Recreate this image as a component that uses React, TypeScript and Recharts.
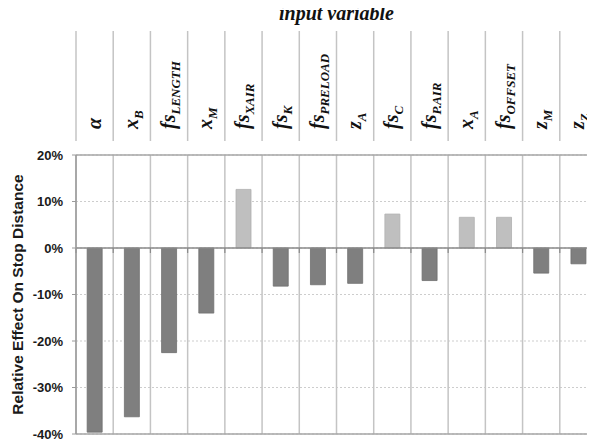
import React from 'react';
import { BarChart, Bar, XAxis, YAxis, CartesianGrid, ReferenceLine, Cell, Label } from 'recharts';

const variables = ['α', 'x', 'fs', 'x', 'fs', 'fs', 'fs', 'z', 'fs', 'fs', 'x', 'fs', 'z', 'z'];
const subscripts = ['', 'B', 'LENGTH', 'M', 'XAIR', 'K', 'PRELOAD', 'A', 'C', 'P.AIR', 'A', 'OFFSET', 'M', 'Z'];
const effects = [-0.396, -0.363, -0.225, -0.14, 0.126, -0.082, -0.079, -0.076, 0.073, -0.07, 0.066, 0.066, -0.054, -0.034];
const yTicks = [-0.4, -0.3, -0.2, -0.1, 0, 0.1, 0.2];
const yDomain = [-0.4, 0.2];
const titleText = 'input variable';
const yLabelText = 'Relative Effect On Stop Distance';

const data = effects.map((v, i) => ({
  key: `${variables[i]}_${subscripts[i]}_${i}`,
  variable: variables[i],
  sub: subscripts[i],
  effect: v,
}));

const SERIF = "'Liberation Serif', 'Times New Roman', 'DejaVu Serif', serif";
const SANS = "'Liberation Sans', Arial, 'DejaVu Sans', sans-serif";
const NEG = '#7f7f7f';
const POS = '#bfbfbf';
const GRID = '#c4c4c4';

const HeaderTick = (props: any) => {
  const { x, y, payload } = props;
  const px = Number(x);
  const py = Number(y);
  const i = payload.index;
  const half = payload.offset ?? 18.6;
  const d = data[i];
  const tx = px + 6;
  const ty = py - 26;
  return (
    <g>
      <line x1={px - half} x2={px - half} y1={py - 124} y2={py - 14} stroke={GRID} strokeWidth={1.5} />
      {i === data.length - 1 && (
        <line x1={px + half} x2={px + half} y1={py - 124} y2={py - 14} stroke={GRID} strokeWidth={1.5} />
      )}
      <text
        x={tx}
        y={ty}
        transform={`rotate(-90, ${tx}, ${ty})`}
        fontFamily={SERIF}
        fontStyle="italic"
        fontWeight="bold"
        fontSize={20}
        fill="#111"
        textAnchor="start"
      >
        {d.variable}
        {d.sub ? (
          <tspan fontSize={13} dy={5}>
            {d.sub}
          </tspan>
        ) : null}
      </text>
    </g>
  );
};

const ZeroLine = (props: any) => {
  const { x1, x2, y1 } = props;
  const n = data.length;
  const step = (x2 - x1) / n;
  const ticks = [];
  for (let i = 0; i <= n; i++) {
    ticks.push(
      <line key={i} x1={x1 + i * step} x2={x1 + i * step} y1={y1} y2={y1 + 5} stroke="#8a8a8a" strokeWidth={1.2} />
    );
  }
  return (
    <g>
      <line x1={x1} x2={x2} y1={y1} y2={y1} stroke="#8a8a8a" strokeWidth={1.5} />
      {ticks}
    </g>
  );
};

const columnBoundaries = ({ offset }: any) => {
  const n = data.length;
  const step = offset.width / n;
  const xs = [];
  for (let i = 0; i <= n; i++) xs.push(offset.left + i * step);
  return xs;
};

export default function App() {
  return (
    <div style={{ margin: '-8px 0 0 -8px', width: 595, height: 444, overflow: 'hidden', background: '#fff' }}>
      <BarChart
        width={597}
        height={444}
        data={data}
        margin={{ top: 0, right: 0, bottom: 10, left: 0 }}
        barCategoryGap="30%"
      >
        <CartesianGrid vertical={false} strokeDasharray="2 2" stroke="#cdcdcd" />
        <CartesianGrid
          horizontal={false}
          stroke={GRID}
          strokeWidth={1.5}
          verticalCoordinatesGenerator={columnBoundaries}
        />
        <XAxis dataKey="key" hide />
        <XAxis
          xAxisId="top"
          dataKey="key"
          orientation="top"
          height={155}
          interval={0}
          tickSize={0}
          tickMargin={0}
          axisLine={false}
          tickLine={false}
          tick={<HeaderTick />}
        >
          <Label
            content={({ viewBox }: any) => (
              <text
                x={viewBox.x + viewBox.width / 2}
                y={viewBox.y + 20}
                textAnchor="middle"
                fontFamily={SERIF}
                fontStyle="italic"
                fontWeight="bold"
                fontSize={20}
                fill="#111"
              >
                {titleText}
              </text>
            )}
          />
        </XAxis>
        <YAxis
          type="number"
          domain={yDomain}
          ticks={yTicks}
          interval={0}
          width={76}
          tickFormatter={(v: number) => `${Math.round(v * 100)}%`}
          tick={{ fontFamily: SANS, fontWeight: 'bold', fontSize: 13, fill: '#1a1a1a' }}
          tickSize={4}
          tickMargin={9}
          axisLine={{ stroke: '#9a9a9a', strokeWidth: 1.5 }}
          tickLine={{ stroke: '#9a9a9a' }}
        >
          <Label
            content={({ viewBox }: any) => {
              const cx = viewBox.x + 17;
              const cy = viewBox.y + viewBox.height / 2;
              return (
                <text
                  x={cx}
                  y={cy}
                  transform={`rotate(-90, ${cx}, ${cy})`}
                  textAnchor="middle"
                  dominantBaseline="central"
                  fontFamily={SANS}
                  fontWeight="bold"
                  fontSize={15.5}
                  fill="#1a1a1a"
                >
                  {yLabelText}
                </text>
              );
            }}
          />
        </YAxis>
        <ReferenceLine y={yDomain[1]} stroke="#a6a6a6" strokeWidth={1.5} />
        <ReferenceLine y={yDomain[0]} stroke="#a6a6a6" strokeWidth={1.5} />
        <Bar dataKey="effect" isAnimationActive={false}>
          {data.map((d, i) => (
            <Cell
              key={i}
              fill={d.effect < 0 ? NEG : POS}
              stroke={d.effect < 0 ? '#707070' : '#b0b0b0'}
              strokeWidth={0.8}
            />
          ))}
        </Bar>
        <ReferenceLine y={0} shape={<ZeroLine />} />
      </BarChart>
    </div>
  );
}
